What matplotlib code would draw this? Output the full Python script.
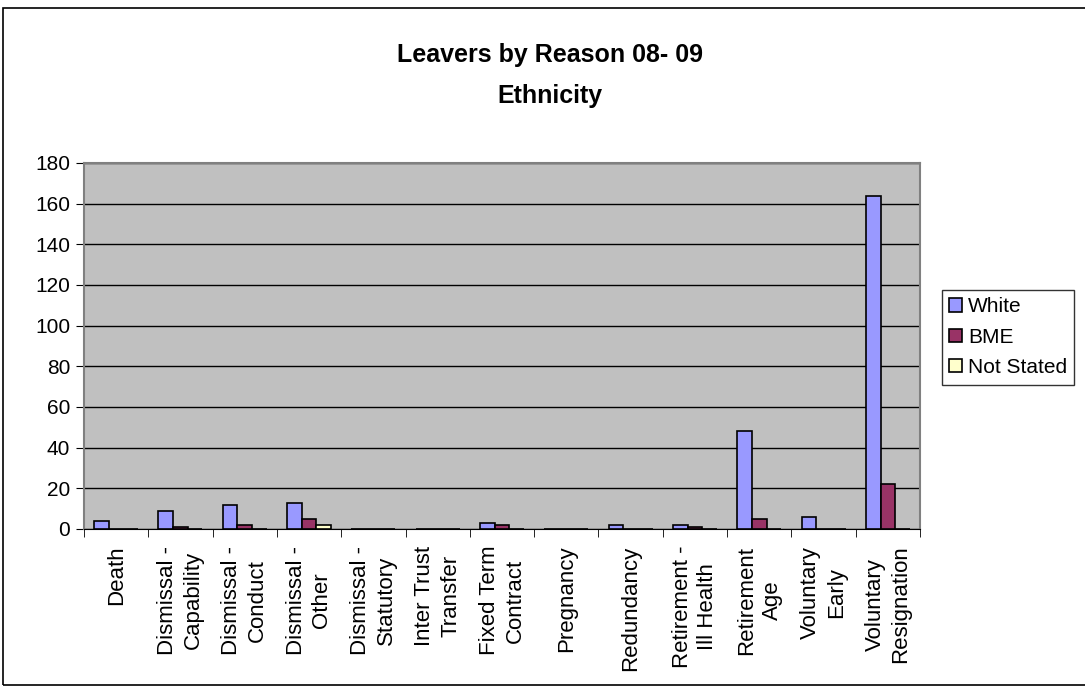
import matplotlib.pyplot as plt
import numpy as np
from matplotlib.patches import Rectangle

plt.rcParams['font.family'] = ['Liberation Sans', 'DejaVu Sans']

categories = [
    "Death", "Dismissal -\nCapability", "Dismissal -\nConduct", "Dismissal -\nOther",
    "Dismissal -\nStatutory", "Inter Trust\nTransfer", "Fixed Term\nContract", "Pregnancy",
    "Redundancy", "Retirement -\nIll Health", "Retirement\nAge", "Voluntary\nEarly",
    "Voluntary\nResignation",
]
white = [4, 9, 12, 13, 0, 0, 3, 0, 2, 2, 48, 6, 164]
bme = [0, 1, 2, 5, 0, 0, 2, 0, 0, 1, 5, 0, 22]
not_stated = [0, 0, 0, 2, 0, 0, 0, 0, 0, 0, 0, 0, 0]

series = [("White", white, "#9999FF"), ("BME", bme, "#993366"), ("Not Stated", not_stated, "#FFFFCC")]

fig = plt.figure(figsize=(10.85, 6.91), dpi=100)
ax = fig.add_axes([84 / 1085, 1 - 529 / 691, 836 / 1085, 366 / 691])
ax.set_facecolor("#C0C0C0")

x = np.arange(len(categories))
w = 0.228
for i, (name, vals, col) in enumerate(series):
    ax.bar(x + (i - 1) * w, vals, w, color=col, edgecolor="black", linewidth=1.2, label=name, zorder=3)

ax.set_xlim(-0.5, len(categories) - 0.5)
ax.set_ylim(0, 180)
ax.set_yticks(range(0, 181, 20))
ax.yaxis.grid(True, color="black", linewidth=1)
ax.set_axisbelow(True)

ax.set_xticks(x)
ax.set_xticklabels(categories, rotation=90, fontsize=16, linespacing=1.3)
ax.set_xticks(np.arange(len(categories) + 1) - 0.5, minor=True)
ax.tick_params(axis="x", which="major", length=0, pad=12)
ax.tick_params(axis="x", which="minor", length=6, direction="out", color="black")
ax.tick_params(axis="y", labelsize=15, length=6, direction="out", pad=4)

for s in ["top", "right", "left"]:
    ax.spines[s].set_color("#808080")
    ax.spines[s].set_linewidth(1.5)
ax.spines["bottom"].set_color("black")

fig.text(550 / 1085, 1 - 62 / 691, "Leavers by Reason 08- 09", fontsize=18, fontweight="bold",
         ha="center", va="baseline")
fig.text(550 / 1085, 1 - 103 / 691, "Ethnicity", fontsize=18, fontweight="bold",
         ha="center", va="baseline")

leg = ax.legend(loc="upper left", bbox_to_anchor=(942 / 1085, 1 - 290 / 691), bbox_transform=fig.transFigure,
                fontsize=15, frameon=True, fancybox=False, edgecolor="black", handlelength=0.6,
                handleheight=0.6, handletextpad=0.3, borderpad=0.35, labelspacing=0.55, borderaxespad=0)
leg.get_frame().set_linewidth(1)

fig.patches.append(Rectangle((3 / 1085, 6 / 691), 1.1, 1 - 14 / 691, transform=fig.transFigure,
                             fill=False, edgecolor="black", linewidth=1.2))

fig.savefig("out.png", dpi=100)
